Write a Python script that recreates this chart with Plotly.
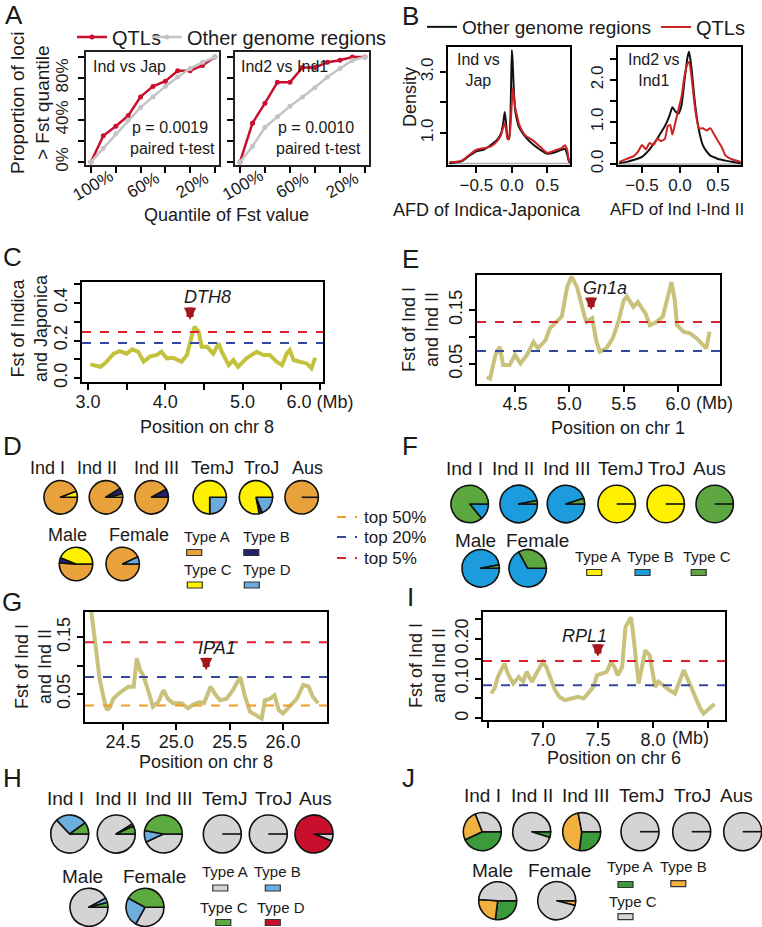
import plotly.graph_objects as go

W, H = 762, 927
FONT = "Liberation Sans, Arial, Helvetica, sans-serif"
TXT = "#1a1a1a"


def fx(px):
    return px / W


def fy(py):
    return 1 - py / H


# ======================= DATA =======================
# ---- Panel A: proportion of loci above Fst quantile ----
quantile_pct = [100, 90, 80, 70, 60, 50, 40, 30, 20, 10, 0]
qtl_ind_jap = [0, 25, 34, 44, 62, 72, 77, 87, 87, 92, 100]
other_ind_jap = [0, 13, 27, 40, 52, 62, 72, 81, 89, 95, 100]
qtl_ind2_ind1 = [0, 37, 56, 76, 76, 90, 90, 95, 97, 100, 100]
other_ind2_ind1 = [0, 15, 33, 43, 53, 62, 71, 81, 89, 97, 100]
quantile_ticks = [100, 80, 60, 40, 20, 0]
quantile_ticktext = ["100%", "", "60%", "", "20%", ""]
prop_ticks = [0, 20, 40, 60, 80, 100]
prop_ticktext = ["0%", "", "40%", "", "80%", ""]
p_values = ["p = 0.0019", "p = 0.0010"]

# ---- Panel B: AFD density ----
afd_ij = [-0.88, -0.8, -0.7, -0.6, -0.5, -0.4, -0.3, -0.2, -0.15, -0.12, -0.1, -0.08,
          -0.06, -0.04, -0.02, 0.0, 0.01, 0.03, 0.05, 0.08, 0.1, 0.15, 0.2, 0.3, 0.4,
          0.5, 0.6, 0.7, 0.75, 0.78, 0.8, 0.82]
dens_other_ij = [0.01, 0.03, 0.08, 0.25, 0.4, 0.45, 0.6, 0.8, 1.0, 1.35, 1.69, 1.3,
                 0.85, 0.8, 1.5, 3.72, 3.4, 2.3, 1.7, 1.35, 1.2, 1.0, 0.85, 0.62, 0.45,
                 0.32, 0.36, 0.45, 0.48, 0.3, 0.1, 0.02]
dens_qtl_ij = [0.05, 0.05, 0.1, 0.28, 0.45, 0.5, 0.55, 0.75, 0.95, 1.2, 1.33, 1.1,
               0.8, 0.8, 1.2, 2.0, 2.47, 2.2, 1.8, 1.5, 1.3, 1.05, 0.9, 0.75, 0.55,
               0.35, 0.42, 0.5, 0.6, 0.45, 0.15, 0.05]
afd_i12 = [-0.8, -0.7, -0.6, -0.55, -0.5, -0.45, -0.4, -0.35, -0.3, -0.25, -0.2, -0.16,
           -0.13, -0.1, -0.06, -0.02, 0.02, 0.06, 0.1, 0.12, 0.15, 0.2, 0.25, 0.3,
           0.35, 0.4, 0.45, 0.5, 0.55, 0.6, 0.7, 0.8]
dens_other_i12 = [0.02, 0.05, 0.1, 0.13, 0.17, 0.25, 0.35, 0.47, 0.6, 0.75, 0.9, 1.05,
                  1.2, 1.35, 1.25, 1.2, 1.4, 2.0, 2.55, 2.67, 2.3, 1.4, 0.8, 0.45,
                  0.3, 0.2, 0.16, 0.12, 0.1, 0.08, 0.05, 0.02]
dens_qtl_i12 = [0.05, 0.12, 0.2, 0.3, 0.45, 0.35, 0.5, 0.45, 0.6, 0.55, 0.6, 0.9,
                0.93, 0.7, 1.0, 1.3, 1.6, 2.1, 2.4, 2.43, 2.1, 1.3, 0.85, 0.85,
                0.8, 0.85, 0.7, 0.55, 0.4, 0.2, 0.1, 0.05]

# ---- Panels C, E, G, I: Fst along chromosome ----
c_pos = [3.03, 3.16, 3.24, 3.33, 3.41, 3.50, 3.57, 3.65, 3.72, 3.80, 3.89, 3.95, 4.02,
         4.10, 4.21, 4.28, 4.34, 4.38, 4.43, 4.47, 4.54, 4.62, 4.69, 4.73, 4.82, 4.88,
         4.94, 5.05, 5.18, 5.27, 5.35, 5.44, 5.51, 5.57, 5.61, 5.66, 5.74, 5.83, 5.89, 5.94]
c_fst = [0.073, 0.06, 0.087, 0.13, 0.144, 0.13, 0.153, 0.14, 0.087, 0.114, 0.123, 0.14,
         0.105, 0.108, 0.087, 0.123, 0.22, 0.274, 0.247, 0.167, 0.167, 0.13, 0.185, 0.14,
         0.069, 0.096, 0.06, 0.105, 0.14, 0.123, 0.123, 0.087, 0.069, 0.13, 0.149, 0.096,
         0.087, 0.078, 0.052, 0.108]
e_pos = [4.24, 4.27, 4.32, 4.36, 4.39, 4.45, 4.50, 4.55, 4.61, 4.67, 4.71, 4.78, 4.82,
         4.88, 4.93, 4.98, 5.02, 5.07, 5.10, 5.14, 5.16, 5.21, 5.25, 5.28, 5.34, 5.40,
         5.45, 5.50, 5.53, 5.59, 5.63, 5.70, 5.74, 5.80, 5.86, 5.91, 5.94, 5.97, 5.99,
         6.05, 6.11, 6.17, 6.23, 6.26, 6.29]
e_fst = [0.026, 0.023, 0.067, 0.082, 0.048, 0.048, 0.067, 0.051, 0.067, 0.091, 0.079,
         0.094, 0.116, 0.128, 0.138, 0.193, 0.212, 0.193, 0.168, 0.138, 0.128, 0.135,
         0.091, 0.073, 0.079, 0.098, 0.128, 0.168, 0.175, 0.156, 0.165, 0.144, 0.122,
         0.128, 0.138, 0.181, 0.202, 0.168, 0.122, 0.11, 0.107, 0.098, 0.085, 0.079, 0.11]
g_pos = [24.20, 24.25, 24.28, 24.32, 24.35, 24.38, 24.41, 24.46, 24.50, 24.55, 24.60,
         24.63, 24.66, 24.69, 24.74, 24.78, 24.83, 24.88, 24.92, 24.97, 25.05, 25.11,
         25.16, 25.22, 25.26, 25.32, 25.36, 25.41, 25.47, 25.53, 25.60, 25.64, 25.69,
         25.75, 25.80, 25.83, 25.88, 25.92, 25.96, 26.00, 26.07, 26.13, 26.19, 26.24,
         26.28, 26.33]
g_fst = [0.20, 0.124, 0.078, 0.042, 0.022, 0.028, 0.042, 0.051, 0.057, 0.063, 0.063,
         0.113, 0.092, 0.083, 0.054, 0.028, 0.036, 0.057, 0.042, 0.034, 0.034, 0.025,
         0.032, 0.036, 0.034, 0.063, 0.051, 0.039, 0.042, 0.057, 0.080, 0.048, 0.019,
         0.013, 0.007, 0.039, 0.042, 0.048, 0.022, 0.016, 0.031, 0.042, 0.066, 0.063,
         0.045, 0.034]
i_pos = [6.53, 6.56, 6.59, 6.62, 6.65, 6.68, 6.73, 6.78, 6.82, 6.85, 6.90, 6.94, 7.00,
         7.03, 7.08, 7.11, 7.15, 7.20, 7.26, 7.32, 7.37, 7.41, 7.46, 7.49, 7.53, 7.58,
         7.62, 7.65, 7.68, 7.72, 7.75, 7.80, 7.82, 7.85, 7.87, 7.90, 7.93, 7.97, 8.02,
         8.05, 8.09, 8.15, 8.20, 8.25, 8.28, 8.32, 8.38, 8.43, 8.46, 8.50, 8.56]
i_fst = [0.0625, 0.075, 0.104, 0.121, 0.1375, 0.1125, 0.0875, 0.104, 0.092, 0.117, 0.092,
         0.1125, 0.142, 0.129, 0.096, 0.071, 0.054, 0.046, 0.05, 0.054, 0.05, 0.0625,
         0.079, 0.108, 0.1125, 0.117, 0.142, 0.129, 0.108, 0.129, 0.229, 0.254, 0.2125,
         0.146, 0.0875, 0.129, 0.171, 0.158, 0.079, 0.092, 0.083, 0.071, 0.0625, 0.1,
         0.121, 0.096, 0.054, 0.025, 0.0125, 0.021, 0.036]

# thresholds: (top 50%, top 20%, top 5%); None = not shown
c_thresholds = [None, 0.187, 0.245]
e_thresholds = [None, 0.074, 0.128]
g_thresholds = [0.030, 0.080, 0.141]
i_thresholds = [None, 0.083, 0.144]
threshold_names = ["top 50%", "top 20%", "top 5%"]

# genes: name, position (Mb), arrow tip Fst, label x, label y
genes = {
    "C": ("DTH8", 4.32, 0.309, 4.54, 0.432),
    "E": ("Gn1a", 5.20, 0.150, 5.33, 0.191),
    "G": ("IPA1", 25.28, 0.092, 25.38, 0.131),
    "I": ("RPL1", 7.50, 0.155, 7.38, 0.2075),
}

# ---- Pie panels (D, F, H, J) ----
groups = ["Ind I", "Ind II", "Ind III", "TemJ", "TroJ", "Aus", "Male", "Female"]
# D
d_typeA = [0.94, 0.91, 0.92, 0.0, 0.0, 1.0, 0.51, 0.93]
d_typeB = [0.0, 0.06, 0.08, 0.0, 0.03, 0.0, 0.05, 0.0]
d_typeC = [0.06, 0.03, 0.0, 0.75, 0.78, 0.0, 0.44, 0.0]
d_typeD = [0.0, 0.0, 0.0, 0.25, 0.19, 0.0, 0.0, 0.07]
# F
f_typeA = [0.0, 0.0, 0.0, 1.0, 1.0, 0.0, 0.0, 0.0]
f_typeB = [0.14, 0.97, 0.95, 0.0, 0.0, 0.0, 0.97, 0.67]
f_typeC = [0.86, 0.03, 0.05, 0.0, 0.0, 1.0, 0.03, 0.33]
# H
h_typeA = [0.63, 0.91, 0.43, 1.0, 1.0, 0.06, 0.92, 0.33]
h_typeB = [0.27, 0.02, 0.10, 0.0, 0.0, 0.0, 0.04, 0.25]
h_typeC = [0.10, 0.07, 0.47, 0.0, 0.0, 0.0, 0.04, 0.42]
h_typeD = [0.0, 0.0, 0.0, 0.0, 0.0, 0.94, 0.0, 0.0]
# J
j_typeA = [0.43, 0.05, 0.27, 0.0, 0.0, 0.0, 0.27, 0.0]
j_typeB = [0.26, 0.0, 0.45, 0.0, 0.0, 0.0, 0.24, 0.04]
j_typeC = [0.31, 0.95, 0.28, 1.0, 1.0, 1.0, 0.49, 0.96]

# ======================= STYLES =======================
RED = "#c8102e"
GRAY = "#c4c4c4"
YEL_C = "#c4c23c"
YEL = "#c9c27c"
TH_COLORS = ["#f39c1f", "#3548a0", "#e0202a"]

fig = go.Figure()

# pixel boxes: (left, top, right, bottom)
boxes = {
    1: (86, 52, 219, 165),
    2: (235, 52, 369, 165),
    3: (448, 47, 570, 165),
    4: (618, 47, 741, 165),
    5: (82, 282, 323, 382),
    6: (477, 275, 720, 384),
    7: (85, 612, 327, 722),
    8: (483, 612, 725, 720),
}


def axis_style(**kw):
    d = dict(showline=True, linecolor="black", linewidth=1.8, mirror=True,
             ticks="outside", ticklen=6, tickwidth=1.5, tickcolor="black",
             showgrid=False, zeroline=False, automargin=False,
             tickfont=dict(size=18, family=FONT, color=TXT))
    d.update(kw)
    return d


layout_axes = {}
for k, (l, t, r, b) in boxes.items():
    xs = "xaxis" if k == 1 else f"xaxis{k}"
    ys = "yaxis" if k == 1 else f"yaxis{k}"
    layout_axes[xs] = axis_style(domain=[fx(l), fx(r)], anchor="y" if k == 1 else f"y{k}")
    layout_axes[ys] = axis_style(domain=[fy(b), fy(t)], anchor="x" if k == 1 else f"x{k}",
                                 tickangle=-90)

annotations = []
shapes = []

# ---- Panel A ----
for k, q, o in [(1, qtl_ind_jap, other_ind_jap), (2, qtl_ind2_ind1, other_ind2_ind1)]:
    xa = "x" if k == 1 else f"x{k}"
    ya = "y" if k == 1 else f"y{k}"
    fig.add_trace(go.Scatter(x=quantile_pct, y=q, mode="lines+markers", name="QTLs",
                             line=dict(color=RED, width=2.5), marker=dict(size=5, color=RED),
                             xaxis=xa, yaxis=ya, showlegend=(k == 1), legend="legend",
                             cliponaxis=False))
    fig.add_trace(go.Scatter(x=quantile_pct, y=o, mode="lines+markers", name="Other genome regions",
                             line=dict(color=GRAY, width=2.5), marker=dict(size=5, color=GRAY),
                             xaxis=xa, yaxis=ya, showlegend=(k == 1), legend="legend3",
                             cliponaxis=False))
    for tv, tt in zip(quantile_ticks, quantile_ticktext):
        if tt:
            annotations.append(dict(x=tv, xref=xa, y=fy(185), yref="paper", text=tt,
                                    showarrow=False, textangle=-30, xanchor="center",
                                    yanchor="middle", xshift=2,
                                    font=dict(size=17, family=FONT, color=TXT)))
for k in (1, 2):
    xs = "xaxis" if k == 1 else f"xaxis{k}"
    ys = "yaxis" if k == 1 else f"yaxis{k}"
    layout_axes[xs].update(range=[104, -3.3], tickvals=quantile_ticks, showticklabels=False,
                           linecolor="#222")
    layout_axes[ys].update(range=[-2.9, 104.8], tickvals=prop_ticks, ticktext=prop_ticktext,
                           tickfont=dict(size=17, family=FONT, color=TXT), linecolor="#222",
                           showticklabels=(k == 1), ticklabelstandoff=3)

# ---- Panel B ----
for k, xv, o, q in [(3, afd_ij, dens_other_ij, dens_qtl_ij), (4, afd_i12, dens_other_i12, dens_qtl_i12)]:
    fig.add_trace(go.Scatter(x=xv, y=o, mode="lines", name="Other genome regions",
                             line=dict(color="#111111", width=2, shape="spline", smoothing=0.6),
                             xaxis=f"x{k}", yaxis=f"y{k}", showlegend=(k == 3), legend="legend2"))
    fig.add_trace(go.Scatter(x=xv, y=q, mode="lines", name="QTLs",
                             line=dict(color="#cc2222", width=2, shape="spline", smoothing=0.6),
                             xaxis=f"x{k}", yaxis=f"y{k}", showlegend=(k == 3), legend="legend4"))
layout_axes["xaxis3"].update(range=[-0.9, 0.82], tickvals=[-0.5, 0, 0.5],
                             ticktext=["\u22120.5", "0.0", "0.5"])
layout_axes["yaxis3"].update(range=[-0.05, 3.82], tickvals=[1, 2, 3], ticktext=["1.0", "", "3.0"])
layout_axes["xaxis4"].update(range=[-0.816, 0.803], tickvals=[-0.5, 0, 0.5],
                             ticktext=["\u22120.5", "0.0", "0.5"])
layout_axes["yaxis4"].update(range=[-0.024, 2.786], tickvals=[0, 0.5, 1, 1.5, 2, 2.5],
                             ticktext=["0.0", "", "1.0", "", "2.0", ""])
for a in ("xaxis3", "xaxis4", "yaxis3", "yaxis4"):
    layout_axes[a]["tickfont"] = dict(size=17, family=FONT, color=TXT)
for a in ("xaxis3", "xaxis4"):
    layout_axes[a]["ticklabelstandoff"] = -2

for k in (3, 4):
    shapes.append(dict(type="line", xref=f"x{k} domain", yref=f"y{k}", x0=0, x1=1, y0=0, y1=0,
                       line=dict(color="#b0b0b0", width=1.5), layer="below"))

# ---- Fst panels ----
fst_panels = [
    (5, c_pos, c_fst, YEL_C, c_thresholds, "C"),
    (6, e_pos, e_fst, YEL, e_thresholds, "E"),
    (7, g_pos, g_fst, YEL, g_thresholds, "G"),
    (8, i_pos, i_fst, YEL, i_thresholds, "I"),
]
for k, xp, yv, col, ths, key in fst_panels:
    fig.add_trace(go.Scatter(x=xp, y=yv, mode="lines", line=dict(color=col, width=4),
                             xaxis=f"x{k}", yaxis=f"y{k}", showlegend=False))
    for j, th in enumerate(ths):
        if th is None:
            continue
        shapes.append(dict(type="line", xref=f"x{k} domain", yref=f"y{k}", x0=0, x1=1,
                           y0=th, y1=th, line=dict(color=TH_COLORS[j], width=2, dash="dash")))
    name, gx, gtip, lx, ly = genes[key]
    annotations.append(dict(x=gx, y=gtip, xref=f"x{k}", yref=f"y{k}", ax=0, ay=-14,
                            showarrow=True, arrowhead=2, arrowsize=0.35, arrowwidth=7,
                            arrowcolor="#a3161c", text=""))
    annotations.append(dict(x=lx, y=ly, xref=f"x{k}", yref=f"y{k}", showarrow=False,
                            xanchor="center", yanchor="middle",
                            text=f"<i>{name}</i>", font=dict(size=18, family=FONT, color=TXT)))
    layout_axes[f"xaxis{k}"]["ticklabelstandoff"] = -4

layout_axes["xaxis5"].update(range=[2.922, 6.04], tickvals=[3, 3.5, 4, 4.5, 5, 5.5, 6],
                             ticktext=["3.0", "", "4.0", "", "5.0", "", "6.0 (Mb)"])
layout_axes["yaxis5"].update(range=[-0.021, 0.512], tickvals=[0, 0.1, 0.2, 0.3, 0.4, 0.5],
                             ticktext=["0.0", "", "0.2", "", "0.4", ""])
layout_axes["xaxis6"].update(range=[4.15, 6.386], tickvals=[4.5, 5, 5.5, 6],
                             ticktext=["4.5", "5.0", "5.5", "6.0"])
layout_axes["yaxis6"].update(range=[0.013, 0.215], tickvals=[0.05, 0.1, 0.15],
                             ticktext=["0.05", "", "0.15"])
layout_axes["xaxis7"].update(range=[24.144, 26.412], tickvals=[24.5, 25, 25.5, 26],
                             ticktext=["24.5", "25.0", "25.5", "26.0"])
layout_axes["yaxis7"].update(range=[0.001, 0.194], tickvals=[0.05, 0.1, 0.15],
                             ticktext=["0.05", "", "0.15"])
layout_axes["xaxis8"].update(range=[6.455, 8.655], tickvals=[6.5, 7, 7.5, 8, 8.5],
                             ticktext=["", "7.0", "7.5", "8.0", ""])
layout_axes["yaxis8"].update(range=[-0.004, 0.267], tickvals=[0, 0.05, 0.1, 0.15, 0.2, 0.25],
                             ticktext=["0", "", "0.10", "", "0.20", ""])

# threshold key (dashes + text)
for j, nm in enumerate(threshold_names):
    yy = [517, 537, 558][j]
    shapes.append(dict(type="line", xref="paper", yref="paper", x0=fx(337), x1=fx(357),
                       y0=fy(yy), y1=fy(yy), line=dict(color=TH_COLORS[j], width=2, dash="dash")))
    annotations.append(dict(x=fx(362), y=fy(yy), xref="paper", yref="paper", text=nm,
                            showarrow=False, xanchor="left", yanchor="middle",
                            font=dict(size=17, family=FONT, color=TXT)))

# ---- Pies (slices run counter-clockwise from 3 o'clock, as in R) ----
pie_panels = [
    dict(values=[d_typeC, d_typeB, d_typeD, d_typeA],
         colors=["#fff100", "#23226e", "#6aaadf", "#e9a23b"],
         cx=[60.7, 106, 151.7, 209.7, 256, 301.7, 76, 122.7],
         cy=[497.3] * 6 + [564, 564], r=16.7,
         lx=[47, 97, 156, 212, 261, 307, 67.5, 139], ly=[467.7] * 6 + [535, 535], fs=18,
         legend=[("Type A", "#e9a23b", 206.7, 536.7, 194.2, 552.5),
                 ("Type B", "#23226e", 266.7, 536.7, 251.3, 552.5),
                 ("Type C", "#fff100", 208, 569, 194.8, 585),
                 ("Type D", "#6aaadf", 266.5, 569, 251.8, 585)]),
    dict(values=[f_typeC, f_typeB, f_typeA],
         colors=["#5ca73f", "#1c9cdd", "#fff100"],
         cx=[469.7, 518.7, 566, 616.7, 665.7, 714.7, 480.7, 527.7],
         cy=[504] * 6 + [568.3, 568.3], r=18.7,
         lx=[464, 513.3, 566.7, 620.7, 666.7, 709, 475.7, 537.3], ly=[468.3] * 6 + [540, 540], fs=19,
         legend=[("Type A", "#fff100", 598.3, 556.7, 594.2, 572.5),
                 ("Type B", "#1c9cdd", 650.8, 556.7, 642.5, 572.5),
                 ("Type C", "#5ca73f", 706.7, 556.7, 698.7, 572.5)]),
    dict(values=[h_typeC, h_typeB, h_typeD, h_typeA],
         colors=["#5cab3e", "#6caee0", "#c8102e", "#d4d4d4"],
         cx=[69.7, 116.3, 163.3, 222.3, 268.3, 314, 89, 145],
         cy=[834] * 6 + [907.3, 907.3], r=19,
         lx=[65.8, 115.5, 168.5, 225, 273.3, 315.8, 82.5, 154], ly=[798.3] * 6 + [876.7, 876.7], fs=19,
         legend=[("Type A", "#d4d4d4", 225, 871.7, 220.3, 888),
                 ("Type B", "#6caee0", 277.8, 871.7, 272.8, 888),
                 ("Type C", "#5cab3e", 224, 907.7, 223.3, 922.5),
                 ("Type D", "#c8102e", 280.5, 907.7, 272.8, 922.5)]),
    dict(values=[j_typeC, j_typeB, j_typeA],
         colors=["#d4d4d4", "#f2b03f", "#3a9a3c"],
         cx=[482.3, 531.7, 581.7, 640, 691.7, 742.7, 497.7, 556.7],
         cy=[831.7] * 6 + [900.7, 900.7], r=19,
         lx=[482.5, 532, 585.5, 641.7, 692.5, 736.7, 492.5, 559], ly=[795] * 6 + [870, 870], fs=19,
         legend=[("Type A", "#3a9a3c", 630, 866.7, 625.5, 884.5),
                 ("Type B", "#f2b03f", 683.8, 866.7, 678.3, 883.7),
                 ("Type C", "#d4d4d4", 632.5, 901.7, 625.5, 916.7)]),
]

for p in pie_panels:
    r = p["r"]
    for gi, g in enumerate(groups):
        vals = [series[gi] for series in p["values"]]
        pairs = [(v, c) for v, c in zip(vals, p["colors"]) if v > 0]
        pairs = pairs[::-1]  # clockwise drawing of reversed order == counter-clockwise order
        nz = [v for v, c in pairs]
        cols = [c for v, c in pairs]
        cx, cy = p["cx"][gi], p["cy"][gi]
        fig.add_trace(go.Pie(values=nz, marker=dict(colors=cols, line=dict(color="#111111", width=1.6)),
                             domain=dict(x=[fx(cx - r), fx(cx + r)], y=[fy(cy + r), fy(cy - r)]),
                             sort=False, direction="clockwise", rotation=90,
                             textinfo="none", hoverinfo="skip", showlegend=False))
        if len(nz) == 1:
            shapes.append(dict(type="line", xref="paper", yref="paper",
                               x0=fx(cx), y0=fy(cy), x1=fx(cx + r), y1=fy(cy),
                               line=dict(color="#111111", width=1.6)))
        annotations.append(dict(x=fx(p["lx"][gi]), y=fy(p["ly"][gi]), xref="paper", yref="paper",
                                text=g, showarrow=False, xanchor="center", yanchor="middle",
                                font=dict(size=p["fs"], family=FONT, color=TXT)))
    for (nm, col, tx, ty, bx, by) in p["legend"]:
        annotations.append(dict(x=fx(tx), y=fy(ty), xref="paper", yref="paper", text=nm,
                                showarrow=False, xanchor="center", yanchor="middle",
                                font=dict(size=15, family=FONT, color=TXT)))
        shapes.append(dict(type="rect", xref="paper", yref="paper",
                           x0=fx(bx - 7.5), x1=fx(bx + 7.5), y0=fy(by + 3), y1=fy(by - 3),
                           fillcolor=col, line=dict(color="#333333", width=1.2)))


# ---- text annotations ----
def ann(text, px, py, size=18, xanchor="center", angle=0):
    annotations.append(dict(x=fx(px), y=fy(py), xref="paper", yref="paper", text=text,
                            showarrow=False, xanchor=xanchor, yanchor="middle", textangle=angle,
                            font=dict(size=size, family=FONT, color=TXT)))


for letter, px, py in [("A", 14, 15), ("B", 410, 16), ("C", 12, 257), ("E", 410, 259),
                       ("D", 12, 446), ("F", 410, 446), ("G", 12, 602), ("I", 410, 597),
                       ("H", 12, 778), ("J", 408, 778)]:
    ann(letter, px, py, size=26)

ann("Proportion of loci<br>> Fst quantile", 30, 103, size=19, angle=-90)
ann("Quantile of Fst value", 226, 215, size=18)
ann("Ind vs Jap", 91, 67, size=16, xanchor="left")
ann("Ind2 vs Ind1", 239, 67, size=16, xanchor="left")
ann(p_values[0], 170, 128, size=16)
ann("paired t-test", 172, 148, size=16)
ann(p_values[1], 316, 128, size=16)
ann("paired t-test", 318, 148, size=16)

ann("Density", 410, 97, size=18, angle=-90)
ann("AFD of Indica-Japonica", 487, 210, size=18)
ann("AFD of Ind I-Ind II", 677, 210, size=17)
ann("Ind vs<br>Jap", 455, 70, size=16, xanchor="left")
ann("Ind2 vs<br>Ind1", 626, 70, size=16, xanchor="left")

ann("Fst of Indica<br>and Japonica", 30, 328, size=18, angle=-90)
ann("Position on chr 8", 207, 427, size=18)
ann("Fst of Ind I<br>and Ind II", 420, 330, size=18, angle=-90)
ann("Position on chr 1", 618, 428, size=18)
ann("(Mb)", 694, 403, size=18, xanchor="left")
ann("Fst of Ind I<br>and Ind II", 33, 667, size=18, angle=-90)
ann("Position on chr 8", 206, 762, size=18)
ann("Fst of Ind I<br>and Ind II", 427, 666, size=18, angle=-90)
ann("Position on chr 6", 614, 758, size=18)
ann("(Mb)", 670, 738, size=18, xanchor="left")


def legend_at(px, py, size=20):
    return dict(x=fx(px), y=fy(py), xanchor="left", yanchor="middle", orientation="h",
                font=dict(size=size, family=FONT, color=TXT), itemwidth=30,
                bgcolor="rgba(0,0,0,0)")


fig.update_layout(
    width=W, height=H, autosize=False,
    margin=dict(l=0, r=0, t=0, b=0, pad=0, autoexpand=False),
    paper_bgcolor="white", plot_bgcolor="white",
    font=dict(family=FONT, color=TXT, size=16),
    shapes=shapes, annotations=annotations,
    legend=legend_at(72, 37),            # A: QTLs
    legend3=legend_at(147, 37),          # A: Other genome regions
    legend2=legend_at(422, 27, 19),      # B: Other genome regions
    legend4=legend_at(656, 27),          # B: QTLs
    **layout_axes,
)

# remove the browser's default page margin so the 762x927 figure fills the window
fig.write_html("out.html",
               config={"displayModeBar": False},
               post_script="document.documentElement.style.margin='0';"
                           "document.body.style.margin='0';"
                           "document.body.style.overflow='hidden';")
